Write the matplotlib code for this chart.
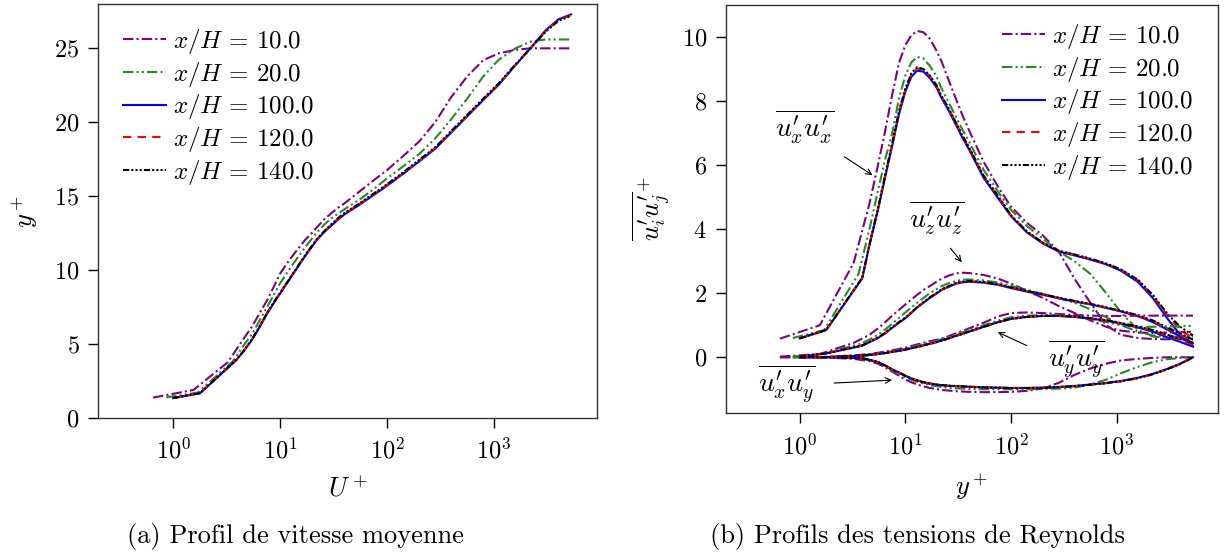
import numpy as np
import matplotlib.pyplot as plt
from matplotlib.ticker import LogLocator, NullLocator

plt.rcParams['font.family'] = 'serif'
plt.rcParams['font.serif'] = ['cmr10']
plt.rcParams['mathtext.fontset'] = 'cm'
plt.rcParams['axes.formatter.use_mathtext'] = True

# y+ positions of the profile points (first cells differ per station)
yplus_10 = [0.65, 1.55, 3.24, 4.57, 5.5, 6.46, 7.5, 8.71, 10, 11.35, 12.9, 14.8, 17, 19.5,
            21.9, 25.7, 30.2, 34.7, 39.8, 55, 75.9, 100, 141, 200, 282, 398, 562, 794,
            1096, 1585, 2188, 3020, 3981, 5250]
yplus_20 = [0.86, 1.7, 3.6, 4.57, 5.5, 6.46, 7.5, 8.71, 10, 11.35, 12.9, 14.8, 17, 19.5,
            21.9, 25.7, 30.2, 34.7, 39.8, 55, 75.9, 100, 141, 200, 282, 398, 562, 794,
            1096, 1585, 2188, 3020, 3981, 5250]
yplus_conv = [1.0, 1.78, 3.9, 4.57, 5.5, 6.46, 7.5, 8.71, 10, 11.35, 12.9, 14.8, 17, 19.5,
              21.9, 25.7, 30.2, 34.7, 39.8, 55, 75.9, 100, 141, 200, 282, 398, 562, 794,
              1096, 1585, 2188, 3020, 3981, 5250]

labels = [r'$x/H\,=\,10.0$', r'$x/H\,=\,20.0$', r'$x/H\,=\,100.0$',
          r'$x/H\,=\,120.0$', r'$x/H\,=\,140.0$']

# (a) mean velocity
U_10 = [1.36, 1.88, 3.75, 5.35, 6.2, 7.1, 7.9, 8.85, 9.75, 10.35, 10.9, 11.45, 12.0, 12.45,
        12.85, 13.4, 13.85, 14.2, 14.5, 15.3, 16.1, 16.76, 17.7, 18.7, 20.0, 21.7, 23.1, 24.2,
        24.65, 24.9, 25.0, 25.0, 25.0, 25.0]
U_20 = [1.38, 1.7, 3.8, 4.9, 5.7, 6.6, 7.45, 8.3, 9.1, 9.7, 10.3, 10.9, 11.5, 12.05,
        12.5, 13.05, 13.5, 13.8, 14.1, 14.75, 15.5, 16.2, 17.0, 17.85, 18.9, 20.2, 21.6, 23.1,
        24.2, 25.0, 25.45, 25.6, 25.6, 25.6]
U_100 = [1.33, 1.65, 3.9, 4.5, 5.3, 6.15, 7.0, 7.75, 8.4, 9.0, 9.6, 10.25, 10.9, 11.5,
         12.0, 12.55, 13.0, 13.4, 13.75, 14.4, 15.1, 15.7, 16.5, 17.35, 18.2, 19.3, 20.4, 21.5,
         22.5, 23.85, 25.0, 26.2, 26.95, 27.3]
U_120 = [1.33, 1.66, 3.92, 4.53, 5.35, 6.2, 7.05, 7.8, 8.45, 9.05, 9.65, 10.3, 10.95, 11.55,
         12.05, 12.6, 13.05, 13.45, 13.8, 14.45, 15.15, 15.75, 16.55, 17.4, 18.25, 19.35, 20.45, 21.55,
         22.55, 23.9, 25.0, 26.15, 26.9, 27.25]
U_140 = [1.33, 1.66, 3.92, 4.53, 5.35, 6.2, 7.05, 7.8, 8.45, 9.05, 9.65, 10.3, 10.95, 11.55,
         12.05, 12.6, 13.1, 13.5, 13.85, 14.5, 15.2, 15.8, 16.6, 17.45, 18.3, 19.4, 20.5, 21.6,
         22.6, 23.9, 25.0, 26.1, 26.85, 27.2]

# (b) Reynolds stresses
uxux_10 = [0.58, 1.0, 2.95, 4.8, 6.0, 7.1, 8.2, 9.2, 9.75, 10.05, 10.19, 10.15, 9.95, 9.6,
           9.25, 8.65, 8.05, 7.55, 7.1, 6.1, 5.3, 4.7, 4.2, 3.8, 3.3, 2.45, 1.7, 1.0,
           0.7, 0.6, 0.57, 0.56, 0.56, 0.57]
uxux_20 = [0.6, 0.85, 2.6, 4.0, 5.2, 6.2, 7.0, 8.1, 8.8, 9.2, 9.38, 9.33, 9.1, 8.8,
           8.4, 7.95, 7.5, 7.1, 6.75, 5.85, 5.15, 4.6, 4.1, 3.7, 3.3, 3.0, 2.6, 2.0,
           1.4, 0.85, 0.65, 0.6, 0.62, 0.65]
uxux_100 = [0.59, 0.85, 2.46, 3.5, 4.6, 5.65, 6.6, 7.6, 8.3, 8.75, 8.95, 8.92, 8.72, 8.45,
            8.1, 7.7, 7.25, 6.85, 6.5, 5.6, 4.95, 4.4, 3.9, 3.55, 3.3, 3.18, 3.05, 2.9,
            2.7, 2.35, 1.85, 1.2, 0.7, 0.35]
uxux_120 = [0.59, 0.85, 2.48, 3.52, 4.63, 5.7, 6.65, 7.65, 8.36, 8.82, 9.02, 8.98, 8.78, 8.5,
            8.15, 7.75, 7.3, 6.9, 6.55, 5.65, 5.0, 4.42, 3.92, 3.57, 3.32, 3.2, 3.07, 2.92,
            2.73, 2.4, 1.92, 1.3, 0.85, 0.6]
uxux_140 = [0.59, 0.85, 2.48, 3.52, 4.65, 5.72, 6.68, 7.7, 8.4, 8.86, 9.06, 9.0, 8.8, 8.52,
            8.17, 7.77, 7.32, 6.92, 6.57, 5.67, 5.02, 4.43, 3.93, 3.58, 3.33, 3.21, 3.08, 2.93,
            2.74, 2.42, 1.95, 1.35, 0.95, 0.68]

uzuz_10 = [0.02, 0.1, 0.45, 0.7, 0.9, 1.1, 1.3, 1.48, 1.65, 1.8, 1.95, 2.1, 2.22, 2.35,
           2.45, 2.55, 2.62, 2.64, 2.63, 2.57, 2.45, 2.3, 2.08, 1.85, 1.6, 1.38, 1.15, 0.95,
           0.83, 0.77, 0.76, 0.77, 0.78, 0.8]
uzuz_20 = [0.02, 0.12, 0.4, 0.55, 0.7, 0.87, 1.05, 1.23, 1.4, 1.55, 1.7, 1.85, 2.0, 2.12,
           2.22, 2.31, 2.38, 2.42, 2.43, 2.4, 2.33, 2.23, 2.1, 1.98, 1.85, 1.7, 1.5, 1.25,
           1.0, 0.8, 0.68, 0.64, 0.64, 0.65]
uzuz_100 = [0.02, 0.12, 0.36, 0.47, 0.6, 0.75, 0.92, 1.08, 1.22, 1.38, 1.55, 1.7, 1.85, 1.98,
            2.1, 2.2, 2.3, 2.34, 2.36, 2.33, 2.26, 2.16, 2.05, 1.95, 1.84, 1.74, 1.65, 1.54,
            1.43, 1.28, 1.1, 0.86, 0.65, 0.44]
uzuz_120 = [0.02, 0.12, 0.37, 0.48, 0.61, 0.76, 0.93, 1.09, 1.23, 1.39, 1.56, 1.71, 1.86, 1.99,
            2.11, 2.21, 2.31, 2.35, 2.37, 2.34, 2.27, 2.17, 2.06, 1.96, 1.85, 1.75, 1.66, 1.55,
            1.44, 1.3, 1.13, 0.9, 0.7, 0.5]
uzuz_140 = [0.02, 0.12, 0.37, 0.48, 0.61, 0.77, 0.94, 1.1, 1.24, 1.4, 1.57, 1.72, 1.87, 2.0,
            2.12, 2.22, 2.32, 2.36, 2.38, 2.35, 2.28, 2.18, 2.07, 1.97, 1.86, 1.76, 1.67, 1.56,
            1.45, 1.31, 1.15, 0.93, 0.74, 0.55]

uyuy_10 = [0.0, 0.005, 0.06, 0.1, 0.14, 0.18, 0.22, 0.26, 0.3, 0.35, 0.4, 0.45, 0.5, 0.54,
           0.58, 0.66, 0.75, 0.82, 0.9, 1.08, 1.28, 1.38, 1.4, 1.38, 1.35, 1.32, 1.3, 1.29,
           1.29, 1.3, 1.3, 1.3, 1.3, 1.3]
uyuy_20 = [0.0, 0.005, 0.06, 0.09, 0.12, 0.15, 0.19, 0.23, 0.27, 0.31, 0.36, 0.41, 0.46, 0.51,
           0.56, 0.63, 0.71, 0.78, 0.85, 1.0, 1.15, 1.25, 1.3, 1.32, 1.31, 1.27, 1.2, 1.1,
           1.0, 0.95, 0.95, 0.96, 0.97, 0.98]
uyuy_100 = [0.0, 0.005, 0.05, 0.07, 0.1, 0.13, 0.17, 0.2, 0.24, 0.28, 0.32, 0.37, 0.42, 0.47,
            0.52, 0.59, 0.67, 0.73, 0.8, 0.95, 1.1, 1.2, 1.26, 1.29, 1.29, 1.26, 1.21, 1.14,
            1.05, 0.93, 0.8, 0.62, 0.48, 0.33]
uyuy_120 = [0.0, 0.005, 0.05, 0.07, 0.1, 0.13, 0.17, 0.2, 0.24, 0.28, 0.32, 0.37, 0.42, 0.47,
            0.52, 0.59, 0.67, 0.73, 0.8, 0.95, 1.1, 1.2, 1.26, 1.29, 1.29, 1.27, 1.22, 1.15,
            1.06, 0.95, 0.83, 0.67, 0.54, 0.4]
uyuy_140 = [0.0, 0.005, 0.05, 0.07, 0.1, 0.13, 0.17, 0.2, 0.24, 0.28, 0.32, 0.37, 0.42, 0.47,
            0.52, 0.59, 0.67, 0.73, 0.8, 0.95, 1.1, 1.2, 1.26, 1.29, 1.29, 1.27, 1.22, 1.16,
            1.07, 0.96, 0.85, 0.7, 0.57, 0.45]

uxuy_10 = [0.0, 0.0, -0.05, -0.12, -0.2, -0.32, -0.45, -0.58, -0.7, -0.78, -0.85, -0.91, -0.96, -0.99,
           -1.02, -1.04, -1.06, -1.07, -1.08, -1.09, -1.09, -1.08, -1.05, -0.97, -0.8, -0.55, -0.35, -0.2,
           -0.1, -0.05, -0.02, 0.0, 0.0, 0.0]
uxuy_20 = [0.0, 0.0, -0.03, -0.09, -0.17, -0.29, -0.41, -0.52, -0.62, -0.7, -0.77, -0.82, -0.87, -0.9,
           -0.93, -0.95, -0.97, -0.98, -0.99, -1.0, -1.0, -1.0, -1.0, -0.99, -0.98, -0.95, -0.85, -0.7,
           -0.5, -0.3, -0.15, -0.06, -0.02, 0.0]
uxuy_100 = [0.0, 0.0, -0.03, -0.08, -0.15, -0.26, -0.38, -0.48, -0.58, -0.66, -0.72, -0.78, -0.82, -0.85,
            -0.87, -0.89, -0.9, -0.91, -0.92, -0.94, -0.95, -0.96, -0.96, -0.95, -0.93, -0.9, -0.85, -0.8,
            -0.74, -0.64, -0.52, -0.36, -0.2, 0.0]
uxuy_120 = [0.0, 0.0, -0.03, -0.08, -0.15, -0.26, -0.38, -0.48, -0.58, -0.66, -0.72, -0.78, -0.82, -0.85,
            -0.87, -0.89, -0.9, -0.91, -0.92, -0.94, -0.95, -0.96, -0.96, -0.95, -0.93, -0.9, -0.86, -0.81,
            -0.75, -0.65, -0.53, -0.37, -0.21, 0.0]
uxuy_140 = [0.0, 0.0, -0.03, -0.08, -0.15, -0.26, -0.38, -0.48, -0.58, -0.66, -0.72, -0.78, -0.82, -0.85,
            -0.87, -0.89, -0.9, -0.91, -0.92, -0.94, -0.95, -0.96, -0.96, -0.95, -0.93, -0.9, -0.86, -0.81,
            -0.75, -0.65, -0.53, -0.37, -0.21, 0.0]

colors = ['purple', 'forestgreen', 'blue', 'red', 'black']
styles = [(0, (5, 1.5, 1, 1.5)),
          (0, (5, 1.5, 1, 1.5, 1, 1.5)),
          '-',
          (0, (4, 3)),
          (0, (3, 1, 1, 1, 1, 1, 1, 1))]
lw = 1.5

grids = [yplus_10, yplus_20, yplus_conv, yplus_conv, yplus_conv]
U_all = [U_10, U_20, U_100, U_120, U_140]
stress = [
    [uxux_10, uxux_20, uxux_100, uxux_120, uxux_140],
    [uzuz_10, uzuz_20, uzuz_100, uzuz_120, uzuz_140],
    [uyuy_10, uyuy_20, uyuy_100, uyuy_120, uyuy_140],
    [uxuy_10, uxuy_20, uxuy_100, uxuy_120, uxuy_140],
]

fig = plt.figure(figsize=(12.3, 5.57), dpi=100)
ax1 = fig.add_axes([0.0799, 0.2501, 0.4052, 0.7427])
ax2 = fig.add_axes([0.590, 0.2580, 0.4005, 0.7330])

for i in range(5):
    ax1.plot(grids[i], U_all[i], color=colors[i], linestyle=styles[i], lw=lw, label=labels[i])

for k, comp in enumerate(stress):
    for i in range(5):
        ax2.plot(grids[i], comp[i], color=colors[i], linestyle=styles[i], lw=lw,
                 label=labels[i] if k == 0 else None)

for ax in (ax1, ax2):
    ax.set_xscale('log')
    ax.set_xlim(10**-0.70, 10**3.96)
    ax.xaxis.set_major_locator(LogLocator(base=10, numticks=10))
    ax.xaxis.set_minor_locator(NullLocator())
    ax.tick_params(direction='out', length=7.5, width=1.0, labelsize=17.5,
                   top=False, right=False)
    ax.tick_params(axis='x', pad=7)
    ax.tick_params(axis='y', pad=6)
    for sp in ax.spines.values():
        sp.set_linewidth(1.0)
        sp.set_color('#333333')

leg_kw = dict(frameon=False, fontsize=18, handlelength=1.7, handletextpad=0.3,
              borderaxespad=0.6, labelspacing=0.15)

ax1.set_ylim(0, 28)
ax1.set_yticks([0, 5, 10, 15, 20, 25])
ax1.set_xlabel(r'$U^+$', fontsize=19, labelpad=9)
ax1.set_ylabel(r'$y^+$', fontsize=19, labelpad=10)
ax1.legend(loc='upper left', bbox_to_anchor=(0.0, 1.005), **leg_kw)

ax2.set_ylim(-1.75, 11.0)
ax2.set_yticks([0, 2, 4, 6, 8, 10])
ax2.set_xlabel(r'$y^+$', fontsize=19, labelpad=9)
ax2.set_ylabel(r'$\overline{u^{\prime}_{i}u^{\prime}_{j}}^{+}$', fontsize=19, labelpad=6)
ax2.legend(loc='upper right', bbox_to_anchor=(1.0, 1.02), **leg_kw)

# component labels with arrows
notes = [
    (r'$\overline{u^{\prime}_{x}u^{\prime}_{x}}$', 10**0.05, 7.2, 10**0.40, 6.31, 10**0.71, 5.64),
    (r'$\overline{u^{\prime}_{z}u^{\prime}_{z}}$', 10**1.30, 4.35, 10**1.41, 3.47, 10**1.55, 2.9),
    (r'$\overline{u^{\prime}_{y}u^{\prime}_{y}}$', 10**2.62, -0.05, 10**2.17, 0.33, 10**1.85, 0.82),
    (r'$\overline{u^{\prime}_{x}u^{\prime}_{y}}$', 10**-0.12, -0.85, 10**0.30, -0.81, 10**0.90, -0.71),
]
for txt, tx, ty, x0, y0, x1, y1 in notes:
    ax2.text(tx, ty, txt, fontsize=20, ha='center', va='center')
    ax2.annotate('', xy=(x1, y1), xytext=(x0, y0),
                 arrowprops=dict(arrowstyle='->', color='black', lw=0.8))

fig.text(0.2398, 0.036, '(a) Profil de vitesse moyenne', fontsize=19, ha='center', va='center')
fig.text(0.7455, 0.036, '(b) Profils des tensions de Reynolds', fontsize=19, ha='center', va='center')

fig.savefig('out.png', dpi=100)
